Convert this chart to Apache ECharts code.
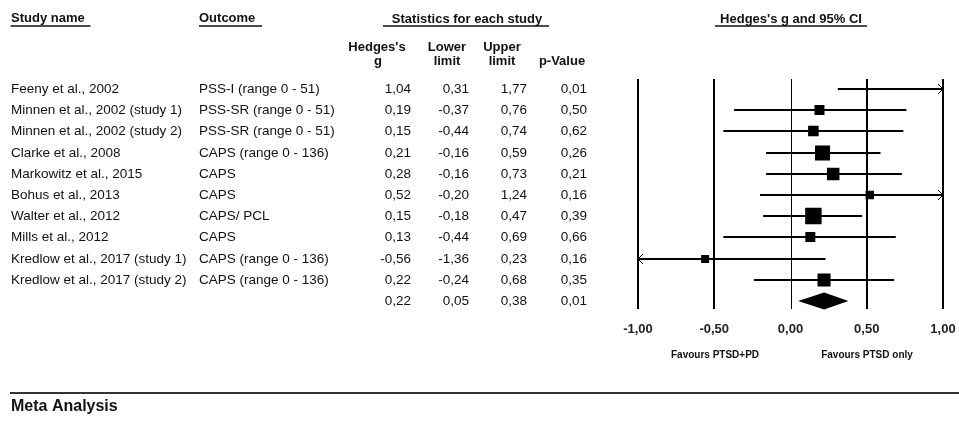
<!DOCTYPE html>
<html>
<head>
<meta charset="utf-8">
<script src="https://cdn.jsdelivr.net/npm/echarts@6/dist/echarts.min.js"></script>
<style>
  html, body { margin: 0; padding: 0; background: #ffffff; }
  #chart { width: 959px; height: 425px; }
</style>
</head>
<body>
<div id="chart"></div>
<script>
// Study-level results (Hedges's g with 95% CI)
const studies = [
  'Feeny et al., 2002',
  'Minnen et al., 2002 (study 1)',
  'Minnen et al., 2002 (study 2)',
  'Clarke et al., 2008',
  'Markowitz et al., 2015',
  'Bohus et al., 2013',
  'Walter et al., 2012',
  'Mills et al., 2012',
  'Kredlow et al., 2017 (study 1)',
  'Kredlow et al., 2017 (study 2)'
];
const outcomes = [
  'PSS-I (range 0 - 51)',
  'PSS-SR (range 0 - 51)',
  'PSS-SR (range 0 - 51)',
  'CAPS (range 0 - 136)',
  'CAPS',
  'CAPS',
  'CAPS/ PCL',
  'CAPS',
  'CAPS (range 0 - 136)',
  'CAPS (range 0 - 136)'
];
const hedgesG   = [1.04, 0.19, 0.15, 0.21, 0.28, 0.52, 0.15, 0.13, -0.56, 0.22];
const lowerLim  = [0.31, -0.37, -0.44, -0.16, -0.16, -0.20, -0.18, -0.44, -1.36, -0.24];
const upperLim  = [1.77, 0.76, 0.74, 0.59, 0.73, 1.24, 0.47, 0.69, 0.23, 0.68];
const pValues   = [0.01, 0.50, 0.62, 0.26, 0.21, 0.16, 0.39, 0.66, 0.16, 0.35];
// relative weight of each study (%), drives the box size
const relWeight = [4.8, 7.5, 8.3, 16.9, 11.7, 5.4, 20.4, 7.5, 4.8, 12.7];

// Pooled estimate
const pooledG = 0.22;
const pooledLower = 0.05;
const pooledUpper = 0.38;
const pooledP = 0.01;

// Axis ticks
const tickValues = [-1, -0.5, 0, 0.5, 1];
const axisMin = -1;
const axisMax = 1;

const FONT = '"Liberation Sans", Arial, Helvetica, sans-serif';
const NARROW = '"Liberation Sans Narrow", "Arial Narrow", "Liberation Sans", sans-serif';
const fmt = v => v.toFixed(2).replace('.', ',');

const nRows = studies.length + 1;
const maxWeight = Math.max.apply(null, relWeight);
const MAX_BOX = 16.5;

// rows for the forest plot: [row, g, lower, upper, weight]
const studyRows = studies.map((s, i) => [i, hedgesG[i], lowerLim[i], upperLim[i], relWeight[i]]);
// rows for the table: [x, row]
const tableRows = [];
for (let i = 0; i < nRows; i++) tableRows.push([0, i]);

function chevron(x, y, dir) {
  // open arrow head pointing left (dir=-1) or right (dir=1)
  return {
    type: 'polyline',
    shape: { points: [[x - dir * 5, y - 5], [x, y], [x - dir * 5, y + 5]] },
    style: { stroke: '#000', lineWidth: 1, fill: null }
  };
}

function centered(text, x, y, font) {
  return {
    type: 'text', x: x, y: y,
    style: {
      text: text, font: font, fill: '#111',
      textAlign: 'center', textVerticalAlign: 'middle', align: 'center', verticalAlign: 'middle'
    }
  };
}

const chart = echarts.init(document.getElementById('chart'), null, { renderer: 'canvas' });

const plotTop = 78.4;
const plotHeight = 233.2;
const HEAD = 'bold 13px ' + FONT;

const option = {
  animation: false,
  backgroundColor: '#ffffff',
  grid: [
    { left: 638, right: 16, top: plotTop, height: plotHeight },
    { left: 0, width: 620, top: plotTop, height: plotHeight }
  ],
  xAxis: [
    {
      gridIndex: 0, type: 'value', min: axisMin, max: axisMax, interval: 0.5,
      axisLine: { show: false }, axisTick: { show: false }, splitLine: { show: false },
      axisLabel: {
        margin: 11, color: '#222', fontFamily: FONT, fontSize: 13, fontWeight: 'bold',
        formatter: v => fmt(v)
      }
    },
    { gridIndex: 1, type: 'value', min: 0, max: 620, show: false }
  ],
  yAxis: [
    { gridIndex: 0, type: 'value', inverse: true, min: -0.5, max: nRows - 0.5, show: false },
    { gridIndex: 1, type: 'value', inverse: true, min: -0.5, max: nRows - 0.5, show: false }
  ],
  series: [
    // reference lines at each tick
    {
      type: 'custom', xAxisIndex: 0, yAxisIndex: 0, silent: true,
      data: tickValues.map(v => [v]),
      renderItem: function (params, api) {
        const v = api.value(0);
        const p1 = api.coord([v, -0.47]);
        const p2 = api.coord([v, nRows - 0.62]);
        const x = Math.round(p1[0]) + (v === 0 ? 0.5 : 0);
        return {
          type: 'line',
          shape: { x1: x, y1: p1[1], x2: x, y2: p2[1] },
          style: { stroke: '#000', lineWidth: v === 0 ? 1 : 2 }
        };
      }
    },
    // study CIs and weighted boxes
    {
      type: 'custom', xAxisIndex: 0, yAxisIndex: 0, silent: true,
      data: studyRows,
      renderItem: function (params, api) {
        const row = api.value(0), g = api.value(1), lo = api.value(2), hi = api.value(3), w = api.value(4);
        const loC = Math.max(lo, axisMin), hiC = Math.min(hi, axisMax);
        const a = api.coord([loC, row]);
        const b = api.coord([hiC, row]);
        const y = Math.round(a[1]);
        const children = [{
          type: 'line',
          shape: { x1: a[0], y1: y, x2: b[0], y2: y },
          style: { stroke: '#000', lineWidth: 2 }
        }];
        if (lo < axisMin) children.push(chevron(a[0], y, -1));
        if (hi > axisMax) children.push(chevron(b[0], y, 1));
        if (g >= axisMin && g <= axisMax) {
          const c = api.coord([g, row]);
          const s = MAX_BOX * Math.sqrt(w / maxWeight);
          children.push({
            type: 'rect',
            shape: { x: c[0] - s / 2, y: y - s / 2, width: s, height: s },
            style: { fill: '#000' }
          });
        }
        return { type: 'group', children: children };
      }
    },
    // pooled diamond
    {
      type: 'custom', xAxisIndex: 0, yAxisIndex: 0, silent: true,
      data: [[nRows - 1, pooledG, pooledLower, pooledUpper]],
      renderItem: function (params, api) {
        const row = api.value(0);
        const l = api.coord([api.value(2), row]);
        const m = api.coord([api.value(1), row]);
        const r = api.coord([api.value(3), row]);
        const h = 8.5;
        return {
          type: 'polygon',
          shape: { points: [[l[0], l[1]], [m[0], m[1] - h], [r[0], r[1]], [m[0], m[1] + h]] },
          style: { fill: '#000' }
        };
      }
    },
    // study table
    {
      type: 'custom', xAxisIndex: 1, yAxisIndex: 1, silent: true,
      data: tableRows,
      renderItem: function (params, api) {
        const row = api.value(1);
        const y = Math.round(api.coord([0, row])[1]);
        const isPooled = row === studies.length;
        const cells = isPooled
          ? ['', '', pooledG, pooledLower, pooledUpper, pooledP]
          : [studies[row], outcomes[row], hedgesG[row], lowerLim[row], upperLim[row], pValues[row]];
        const cols = [
          { x: 11, align: 'left' },
          { x: 199, align: 'left' },
          { x: 411, align: 'right' },
          { x: 469, align: 'right' },
          { x: 527, align: 'right' },
          { x: 587, align: 'right' }
        ];
        const children = cells.map((c, k) => ({
          type: 'text',
          style: {
            text: typeof c === 'number' ? fmt(c) : c,
            x: cols[k].x, y: y,
            textAlign: cols[k].align, textVerticalAlign: 'middle',
            align: cols[k].align, verticalAlign: 'middle',
            font: '13.5px ' + FONT, fill: '#111'
          }
        }));
        return { type: 'group', children: children };
      }
    }
  ],
  graphic: [
    // column headings
    { type: 'text', left: 11, top: 12, style: { text: 'Study name', font: HEAD, fill: '#111' } },
    { type: 'line', shape: { x1: 10.5, y1: 26, x2: 90.5, y2: 26 }, style: { stroke: '#111', lineWidth: 1.5 } },
    { type: 'text', left: 199, top: 12, style: { text: 'Outcome', font: HEAD, fill: '#111' } },
    { type: 'line', shape: { x1: 199, y1: 26, x2: 262, y2: 26 }, style: { stroke: '#111', lineWidth: 1.5 } },
    centered('Statistics for each study', 467, 19, HEAD),
    { type: 'line', shape: { x1: 383, y1: 26, x2: 549, y2: 26 }, style: { stroke: '#111', lineWidth: 1.5 } },
    centered("Hedges's g and 95% CI", 791, 19, HEAD),
    { type: 'line', shape: { x1: 715, y1: 26, x2: 867, y2: 26 }, style: { stroke: '#111', lineWidth: 1.5 } },

    centered("Hedges's", 377, 47, HEAD),
    centered('g', 378, 61, HEAD),
    centered('Lower', 447, 47, HEAD),
    centered('limit', 447, 61, HEAD),
    centered('Upper', 502, 47, HEAD),
    centered('limit', 502, 61, HEAD),
    centered('p-Value', 562, 61, HEAD),

    // direction captions under the axis
    centered('Favours PTSD+PD', 715, 355, 'bold 10px ' + NARROW),
    centered('Favours PTSD only', 867, 355, 'bold 10px ' + NARROW),

    // footer rule and title
    { type: 'line', shape: { x1: 10, y1: 393, x2: 959, y2: 393 }, style: { stroke: '#333', lineWidth: 2 } },
    { type: 'text', left: 11, top: 399, style: { text: 'Meta Analysis', font: 'bold 16px ' + FONT, fill: '#111' } }
  ]
};

chart.setOption(option);
</script>
</body>
</html>
